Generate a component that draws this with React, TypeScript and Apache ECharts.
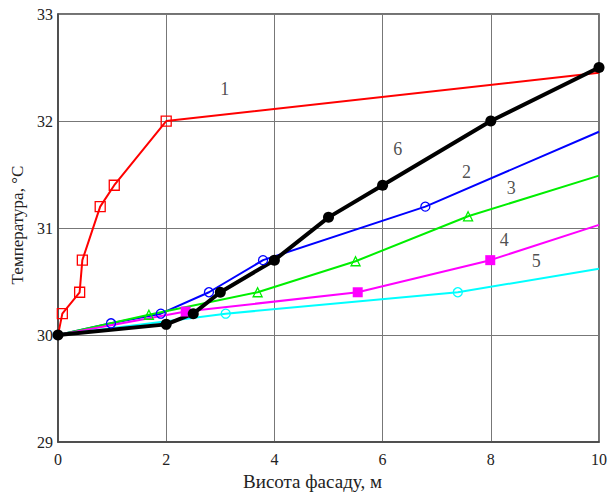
import React, { useEffect, useRef } from "react";
import * as echarts from "echarts";

const curve1: number[][] = [[0, 30], [0.08, 30.2], [0.4, 30.4], [0.45, 30.7], [0.78, 31.2], [1.04, 31.4], [2, 32], [10, 32.45]];
const curve1Marked: boolean[] = [false, true, true, true, true, true, true, false];
const curve2: number[][] = [[0, 30], [0.98, 30.11], [1.9, 30.2], [2.79, 30.4], [3.79, 30.7], [6.79, 31.2], [10, 31.9]];
const curve2Marked: boolean[] = [false, true, true, true, true, true, false];
const curve3: number[][] = [[0, 30], [1.68, 30.19], [3.69, 30.4], [5.5, 30.69], [7.58, 31.11], [10, 31.49]];
const curve3Marked: boolean[] = [false, true, true, true, true, false];
const curve4: number[][] = [[0, 30], [2.36, 30.22], [5.54, 30.4], [7.99, 30.7], [10, 31.03]];
const curve4Marked: boolean[] = [false, true, true, true, false];
const curve5: number[][] = [[0, 30], [3.1, 30.2], [7.39, 30.4], [10, 30.62]];
const curve5Marked: boolean[] = [false, true, true, false];
const curve6: number[][] = [[0, 30], [2, 30.1], [2.5, 30.2], [3, 30.4], [4, 30.7], [5, 31.1], [6, 31.4], [8, 32], [10, 32.5]];

const curveLabels: string[] = ["1", "2", "3", "4", "5", "6"];
const curveLabelPos: number[][] = [[3.08, 32.3], [7.55, 31.52], [8.38, 31.37], [8.25, 30.89], [8.84, 30.69], [6.28, 31.74]];

const xTicks = { min: 0, max: 10, interval: 2 };
const yTicks = { min: 29, max: 33, interval: 1 };

const FONT = "Liberation Serif";

function marked(data: number[][], flags: boolean[]) {
  return data.map((p, i) => (flags[i] ? { value: p } : { value: p, symbol: "none" }));
}

export default function App() {
  const ref = useRef<HTMLDivElement>(null);
  useEffect(() => {
    if (!ref.current) return;
    const chart = echarts.init(ref.current, null, { renderer: "svg" });
    const lineSeries = (name: string, data: any[], color: string, symbol: string, size: number, filled: boolean, width: number) => ({
      name,
      type: "line",
      data,
      symbol,
      symbolSize: size,
      showAllSymbol: true,
      lineStyle: { color, width },
      itemStyle: { color: filled ? color : "rgba(255,255,255,0)", borderColor: color, borderWidth: filled ? 0 : 1.3 },
      emphasis: { disabled: true },
    });
    chart.setOption({
      animation: false,
      grid: { left: 58, right: 10, top: 14, bottom: 50.5, show: true, borderColor: "#444", borderWidth: 1.5, backgroundColor: "#fff" },
      xAxis: {
        type: "value",
        ...xTicks,
        name: "Висота фасаду, м",
        nameLocation: "middle",
        nameGap: 28,
        nameTextStyle: { fontFamily: FONT, fontSize: 19, color: "#222", padding: [0, 32, 0, 0] },
        axisLine: { show: true, lineStyle: { color: "#444", width: 1.5 } },
        axisTick: { show: false },
        axisLabel: { fontFamily: FONT, fontSize: 16, color: "#222", margin: 9 },
        splitLine: { show: true, lineStyle: { color: "#777", width: 1 } },
      },
      yAxis: {
        type: "value",
        ...yTicks,
        name: "Температура, °C",
        nameLocation: "middle",
        nameGap: 26,
        nameTextStyle: { fontFamily: FONT, fontSize: 17, color: "#222", padding: [0, 0, 0, 6] },
        axisLine: { show: true, lineStyle: { color: "#444", width: 1.5 } },
        axisTick: { show: false },
        axisLabel: { fontFamily: FONT, fontSize: 16, color: "#222", margin: 5 },
        splitLine: { show: true, lineStyle: { color: "#777", width: 1 } },
      },
      series: [
        lineSeries("1", marked(curve1, curve1Marked), "#ff0000", "rect", 10, false, 2),
        lineSeries("2", marked(curve2, curve2Marked), "#0000ff", "circle", 9, false, 2),
        lineSeries("3", marked(curve3, curve3Marked), "#00ee00", "triangle", 9, false, 2),
        lineSeries("4", marked(curve4, curve4Marked), "#ff00ff", "rect", 10, true, 2),
        lineSeries("5", marked(curve5, curve5Marked), "#00ffff", "circle", 9, false, 2),
        lineSeries("6", curve6, "#000000", "circle", 11, true, 4),
        {
          type: "scatter",
          data: curveLabelPos.map((p, i) => ({ value: p, name: curveLabels[i] })),
          symbolSize: 0,
          silent: true,
          label: {
            show: true,
            position: "inside",
            formatter: (p: any) => p.name,
            fontFamily: FONT,
            fontSize: 18,
            color: "#222",
          },
        },
      ],
    });
    return () => chart.dispose();
  }, []);
  return <div ref={ref} style={{ position: "absolute", left: 0, top: 0, width: 610, height: 496 }} />;
}
